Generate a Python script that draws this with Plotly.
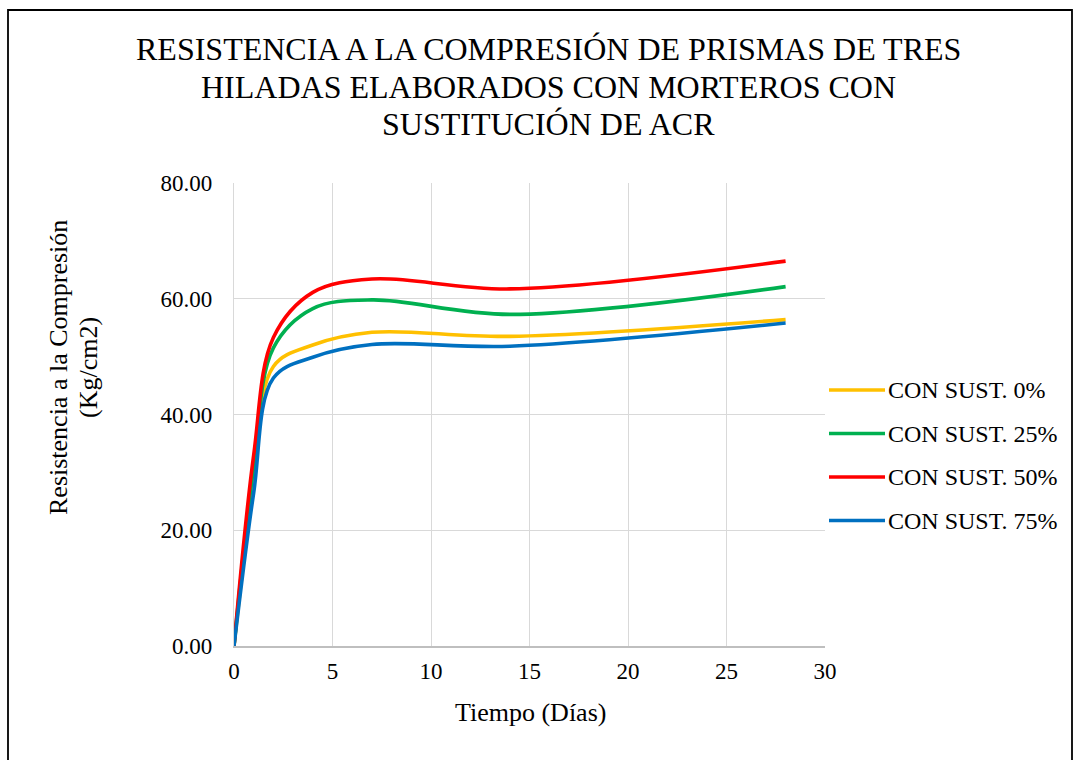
import plotly.graph_objects as go

# Ensayo de compresión en prismas de tres hiladas
dias = [0, 1, 2, 4, 7, 14, 28]
sust_0 = [0.0, 28.5, 48.3, 52.0, 54.2, 53.5, 56.4]
sust_25 = [0.0, 31.0, 51.5, 58.3, 59.8, 57.3, 62.1]
sust_50 = [0.0, 33.0, 53.3, 61.1, 63.4, 61.7, 66.5]
sust_75 = [0.0, 26.5, 46.3, 49.9, 52.1, 51.8, 55.8]

nombres = ["CON SUST. 0%", "CON SUST. 25%", "CON SUST. 50%", "CON SUST. 75%"]
series = [sust_0, sust_25, sust_50, sust_75]
colores = ["#FFC000", "#00B050", "#FF0000", "#0070C0"]

titulo = [
    "RESISTENCIA A LA COMPRESIÓN DE PRISMAS DE TRES",
    "HILADAS ELABORADOS CON MORTEROS CON",
    "SUSTITUCIÓN DE ACR",
]
titulo_y = ["Resistencia a la Compresión", "(Kg/cm2)"]
titulo_x = "Tiempo (Días)"

FUENTE = "Liberation Serif"
W, H = 1078, 760
ML, MR, MT, MB = 234, 253, 183, 114
PW, PH = W - ML - MR, H - MT - MB


def px(x):
    return (x - ML) / PW


def py(y):
    return (H - MB - y) / PH


fig = go.Figure()
for nombre, valores, color in zip(nombres, series, colores):
    fig.add_trace(go.Scatter(
        x=dias, y=valores, name=nombre, mode="lines",
        line=dict(color=color, width=3.6, shape="spline", smoothing=1.0),
        showlegend=False, hoverinfo="x+y+name",
    ))

anotaciones = []
for texto, yc in zip(titulo, [49, 87, 124]):
    anotaciones.append(dict(
        text=texto, x=px(548), y=py(yc), xref="paper", yref="paper",
        xanchor="center", yanchor="middle", showarrow=False,
        font=dict(family=FUENTE, size=32, color="#000000"),
    ))
for texto, xc in zip(titulo_y, [58, 88]):
    anotaciones.append(dict(
        text=texto, x=px(xc), y=py(368), xref="paper", yref="paper",
        xanchor="center", yanchor="middle", showarrow=False, textangle=-90,
        font=dict(family=FUENTE, size=26, color="#000000"),
    ))
anotaciones.append(dict(
    text=titulo_x, x=px(530), y=py(712), xref="paper", yref="paper",
    xanchor="center", yanchor="middle", showarrow=False,
    font=dict(family=FUENTE, size=26, color="#000000"),
))

# Leyenda a la derecha del área de trazado
formas = []
for i, (nombre, color) in enumerate(zip(nombres, colores)):
    yc = 390 + i * 43.5
    formas.append(dict(
        type="line", xref="paper", yref="paper",
        x0=px(829), x1=px(885), y0=py(yc), y1=py(yc),
        line=dict(color=color, width=3.6),
    ))
    anotaciones.append(dict(
        text=nombre, x=px(886), y=py(yc), xref="paper", yref="paper",
        xanchor="left", yanchor="middle", showarrow=False,
        font=dict(family=FUENTE, size=24, color="#000000"),
    ))

# Marco del gráfico
formas.append(dict(
    type="rect", xref="paper", yref="paper",
    x0=px(8), x1=px(1072), y0=py(10), y1=py(800),
    line=dict(color="#000000", width=1.8), fillcolor="rgba(0,0,0,0)",
    layer="below",
))

fig.update_layout(
    width=W, height=H,
    margin=dict(l=ML, r=MR, t=MT, b=MB),
    paper_bgcolor="#FFFFFF", plot_bgcolor="#FFFFFF",
    font=dict(family=FUENTE, color="#000000"),
    annotations=anotaciones, shapes=formas,
    showlegend=False,
)
fig.update_xaxes(
    range=[0, 30], dtick=5, tick0=0,
    showgrid=True, gridcolor="#D9D9D9", gridwidth=1.3,
    showline=True, linecolor="#BFBFBF", linewidth=1.5,
    zeroline=False, ticks="", ticklabelstandoff=4,
    tickfont=dict(family=FUENTE, size=23, color="#000000"),
)
fig.update_yaxes(
    range=[0, 80], dtick=20, tick0=0, tickformat=".2f",
    showgrid=True, gridcolor="#D9D9D9", gridwidth=1.3,
    showline=True, linecolor="#D9D9D9", linewidth=1.3,
    zeroline=False, ticks="", ticklabelstandoff=16,
    tickfont=dict(family=FUENTE, size=23, color="#000000"),
)

fig.write_html("out.html")
